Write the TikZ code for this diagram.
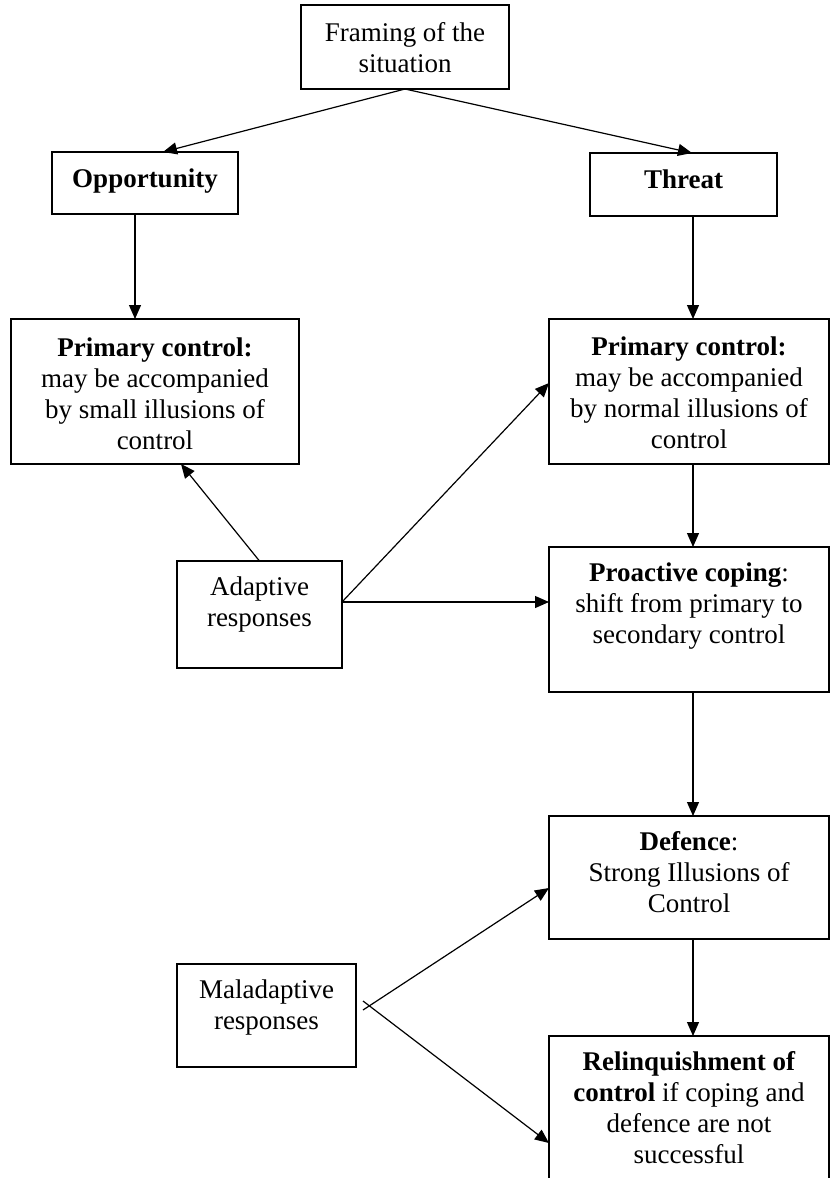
\documentclass[tikz,border=0pt]{standalone}
\usepackage{fontspec}
\setmainfont{Liberation Serif}
\usetikzlibrary{arrows.meta}

% box content: width, height, space above the first line, text
\newcommand{\boxbody}[4]{\parbox[c][#2][t]{#1}{\centering\vspace*{#3}\strut#4\par}}

\begin{document}
\begin{tikzpicture}[x=1pt,y=-1pt,
  every node/.style={font={\fontsize{27pt}{31pt}\selectfont}},
  box/.style={draw, rectangle, line width=1.5pt, inner sep=0pt, outer sep=0pt},
  arr/.style={-{Triangle[length=14pt,width=12pt]}, line width=1.2pt}]

\useasboundingbox (0,0) rectangle (830,1178);

% top of the chart
\node[box] (fr)  at (405,47)    {\boxbody{208pt}{84pt}{14.3pt}{Framing of the\\situation}};
\node[box] (opp) at (145,183)   {\boxbody{186pt}{62pt}{13.3pt}{\textbf{Opportunity}}};
\node[box] (th)  at (683.5,184.5) {\boxbody{187pt}{63pt}{13.3pt}{\textbf{Threat}}};

% primary control boxes
\node[box] (lp) at (155,391.5) {\boxbody{288pt}{145pt}{16pt}{\textbf{Primary control:}\\may be accompanied\\by small illusions of\\control}};
\node[box] (rp) at (689,391.5) {\boxbody{280pt}{145pt}{15pt}{\textbf{Primary control:}\\may be accompanied\\by normal illusions of\\control}};

% adaptive branch
\node[box] (ad) at (259.5,614.5) {\boxbody{165pt}{107pt}{12.3pt}{Adaptive\\responses}};
\node[box] (pc) at (689,619.5)   {\boxbody{280pt}{145pt}{12.3pt}{\textbf{Proactive coping}:\\shift from primary to\\secondary control}};

% maladaptive branch
\node[box] (def) at (689,877.5)  {\boxbody{280pt}{123pt}{12.3pt}{\textbf{Defence}:\\Strong Illusions of\\Control}};
\node[box] (ma)  at (266.5,1015.5) {\boxbody{179pt}{103pt}{12.3pt}{Maladaptive\\responses}};
\node[box] (rel) at (689,1110.5) {\boxbody{280pt}{149pt}{12.3pt}{\textbf{Relinquishment of}\\\textbf{control} if coping and\\defence are not\\successful}};

% vertical flow columns
\coordinate (lcol) at (135,0);
\coordinate (rcol) at (693,0);

% connectors
\draw[arr] (fr.south) -- ([xshift=18pt]opp.north);
\draw[arr] (fr.south) -- ([xshift=8.5pt]th.north);

\draw[arr] (opp.south -| lcol) -- (lp.north -| lcol);
\draw[arr] (th.south -| rcol) -- (rp.north -| rcol);
\draw[arr] (rp.south -| rcol) -- (pc.north -| rcol);
\draw[arr] (pc.south -| rcol) -- (def.north -| rcol);
\draw[arr] (def.south -| rcol) -- (rel.north -| rcol);

\draw[arr] (ad.north) -- ([xshift=26pt]lp.south);
\draw[arr] ([yshift=12.5pt]ad.east) -- ([yshift=8.5pt]rp.west);
\draw[arr] ([yshift=12.5pt]ad.east) -- ([yshift=17.5pt]pc.west);

\draw[arr] ([xshift=7pt,yshift=5.5pt]ma.east) -- ([yshift=-10.5pt]def.west);
\draw[arr] ([xshift=7pt,yshift=14.5pt]ma.east) -- ([yshift=-32.5pt]rel.west);

\end{tikzpicture}
\end{document}
